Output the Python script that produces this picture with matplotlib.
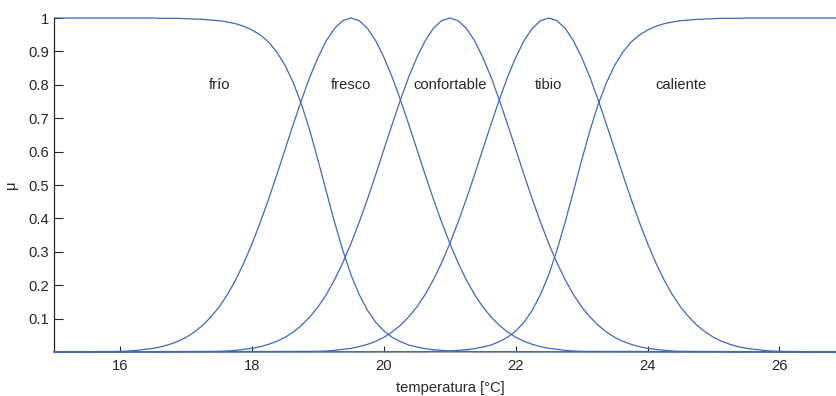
import numpy as np
import matplotlib
matplotlib.use('Agg')
import matplotlib.pyplot as plt

plt.rcParams['font.family'] = ['Liberation Sans', 'DejaVu Sans']

# membership values, 0.125 degC apart inside each curve,
# padded with the flat ends at 15 and 27 degC
x_frio = [15.0] + list(np.arange(16.5, 21.5001, 0.125)) + [27.0]
frio = [1.0,
        1.000, 0.999, 0.999, 0.999, 0.998, 0.997, 0.996, 0.994, 0.992, 0.988,
        0.983, 0.975, 0.964, 0.949, 0.928, 0.898, 0.858, 0.806, 0.741, 0.663,
        0.574, 0.481, 0.389, 0.305, 0.231, 0.172, 0.125, 0.089, 0.063, 0.044,
        0.031, 0.021, 0.015, 0.010, 0.007, 0.005, 0.003, 0.002, 0.002, 0.001,
        0.001,
        0.0]

x_fresco = [15.0] + list(np.arange(16.0, 23.0001, 0.125)) + [27.0]
fresco = [0.0,
          0.002, 0.003, 0.005, 0.008, 0.011, 0.016, 0.023, 0.032, 0.044, 0.060,
          0.080, 0.105, 0.135, 0.172, 0.216, 0.267, 0.325, 0.389, 0.458, 0.531,
          0.607, 0.682, 0.755, 0.823, 0.882, 0.932, 0.969, 0.992, 1.000, 0.992,
          0.969, 0.932, 0.882, 0.823, 0.755, 0.682, 0.607, 0.531, 0.458, 0.389,
          0.325, 0.267, 0.216, 0.172, 0.135, 0.105, 0.080, 0.060, 0.044, 0.032,
          0.023, 0.016, 0.011, 0.008, 0.005, 0.003, 0.002,
          0.0]

x_confortable = [15.0] + list(np.arange(17.5, 24.5001, 0.125)) + [27.0]
confortable = [0.0,
               0.002, 0.003, 0.005, 0.008, 0.011, 0.016, 0.023, 0.032, 0.044, 0.060,
               0.080, 0.105, 0.135, 0.172, 0.216, 0.267, 0.325, 0.389, 0.458, 0.531,
               0.607, 0.682, 0.755, 0.823, 0.882, 0.932, 0.969, 0.992, 1.000, 0.992,
               0.969, 0.932, 0.882, 0.823, 0.755, 0.682, 0.607, 0.531, 0.458, 0.389,
               0.325, 0.267, 0.216, 0.172, 0.135, 0.105, 0.080, 0.060, 0.044, 0.032,
               0.023, 0.016, 0.011, 0.008, 0.005, 0.003, 0.002,
               0.0]

x_tibio = [15.0] + list(np.arange(19.0, 26.0001, 0.125)) + [27.0]
tibio = [0.0,
         0.002, 0.003, 0.005, 0.008, 0.011, 0.016, 0.023, 0.032, 0.044, 0.060,
         0.080, 0.105, 0.135, 0.172, 0.216, 0.267, 0.325, 0.389, 0.458, 0.531,
         0.607, 0.682, 0.755, 0.823, 0.882, 0.932, 0.969, 0.992, 1.000, 0.992,
         0.969, 0.932, 0.882, 0.823, 0.755, 0.682, 0.607, 0.531, 0.458, 0.389,
         0.325, 0.267, 0.216, 0.172, 0.135, 0.105, 0.080, 0.060, 0.044, 0.032,
         0.023, 0.016, 0.011, 0.008, 0.005, 0.003, 0.002,
         0.0]

x_caliente = [15.0] + list(np.arange(20.5, 25.5001, 0.125)) + [27.0]
caliente = [0.0,
            0.001, 0.001, 0.002, 0.002, 0.003, 0.005, 0.007, 0.010, 0.015, 0.021,
            0.031, 0.044, 0.063, 0.089, 0.125, 0.172, 0.231, 0.305, 0.389, 0.481,
            0.574, 0.663, 0.741, 0.806, 0.858, 0.898, 0.928, 0.949, 0.964, 0.975,
            0.983, 0.988, 0.992, 0.994, 0.996, 0.997, 0.998, 0.999, 0.999, 0.999,
            1.000,
            1.0]

names = ['frío', 'fresco', 'confortable', 'tibio', 'caliente']
label_x = [17.5, 19.5, 21.0, 22.5, 24.5]
label_y = 0.8

xticks = [16, 18, 20, 22, 24, 26]
yticks = [0.1, 0.2, 0.3, 0.4, 0.5, 0.6, 0.7, 0.8, 0.9, 1]
yticklabels = ['0.1', '0.2', '0.3', '0.4', '0.5', '0.6', '0.7', '0.8', '0.9', '1']

line_col = '#4068b8'
txt_col = '#262626'

fig = plt.figure(figsize=(8.36, 3.96), dpi=100)
ax = fig.add_axes([0.0651, 0.1111, 0.946, 0.8434])

curves = [(x_frio, frio), (x_fresco, fresco), (x_confortable, confortable),
          (x_tibio, tibio), (x_caliente, caliente)]
for xs, ys in curves:
    ax.plot(xs, ys, color=line_col, lw=0.9, clip_on=False, zorder=3)

for i in range(len(names)):
    ax.text(label_x[i], label_y, names[i], ha='center', va='center',
            fontsize=10.6, color=txt_col)

ax.set_xlim(15, 27)
ax.set_ylim(0, 1)
ax.set_xticks(xticks)
ax.set_xticklabels([str(t) for t in xticks])
ax.set_yticks(yticks)
ax.set_yticklabels(yticklabels)

ax.spines['top'].set_visible(False)
ax.spines['right'].set_visible(False)
ax.spines['left'].set_color(txt_col)
ax.spines['bottom'].set_color('#9a9a9a')
ax.spines['left'].set_linewidth(0.9)
ax.spines['bottom'].set_linewidth(1.2)

ax.tick_params(axis='x', direction='in', length=4, width=0.8, colors=txt_col,
               labelsize=10.6, pad=5)
ax.tick_params(axis='y', direction='in', length=6.5, width=0.8, colors=txt_col,
               labelsize=10.6, pad=4)

ax.set_xlabel('temperatura [°C]', fontsize=10.6, color=txt_col, labelpad=6)
ax.set_ylabel('μ', fontsize=10.6, color=txt_col, labelpad=7)

fig.savefig('out.png', dpi=100)
